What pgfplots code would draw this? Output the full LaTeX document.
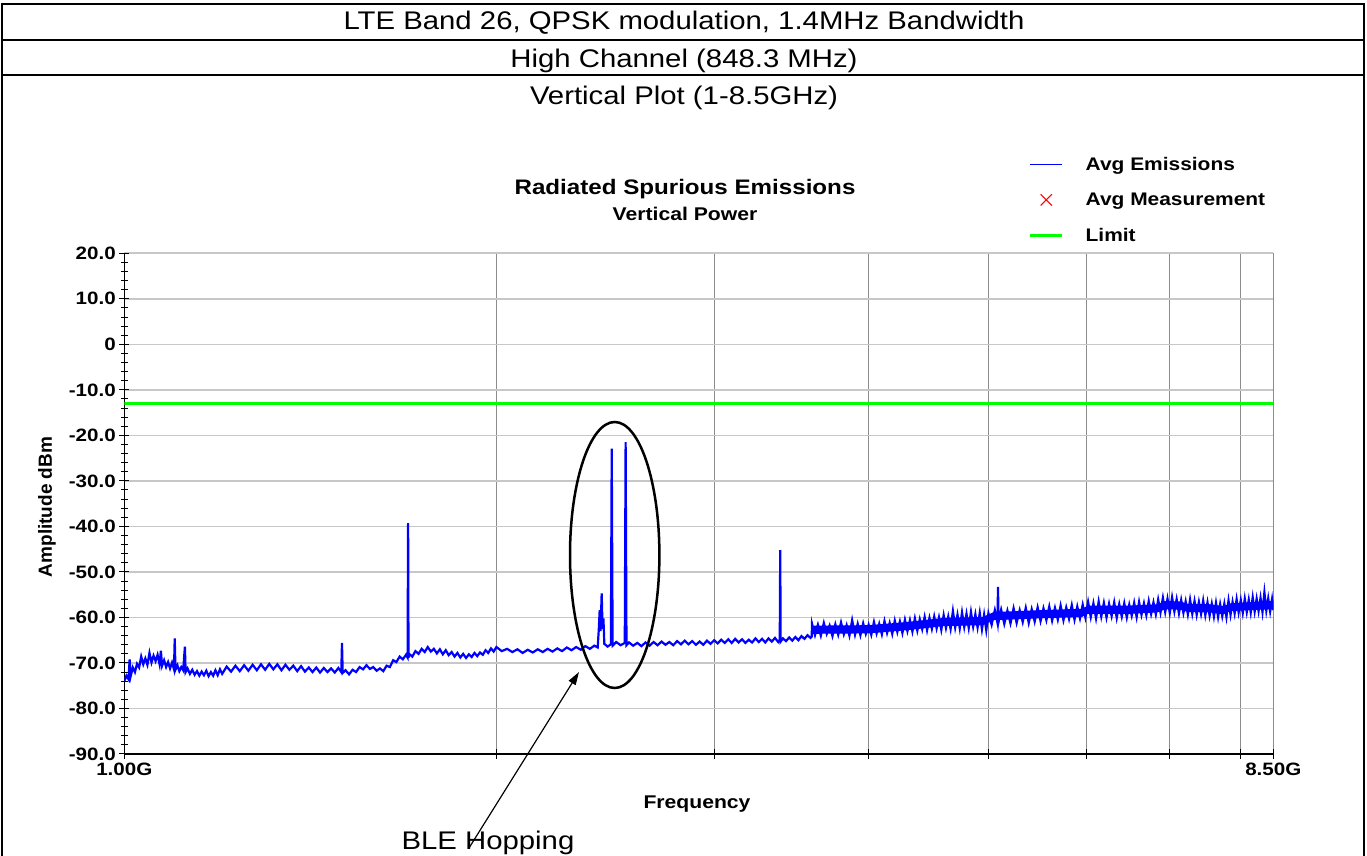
\documentclass[border=0pt]{standalone}
\usepackage{fontspec}
\setmainfont{Liberation Sans}[FakeStretch=1.15]
\newfontfamily\plainsans{Liberation Sans}
\usepackage{pgfplots}
\pgfplotsset{compat=1.18}
\usetikzlibrary{arrows.meta}
\begin{document}
\begin{tikzpicture}[x=1pt,y=1pt]
\useasboundingbox (0,0) rectangle (1367,856);
% header table
\draw[line width=2pt] (2,-5) -- (2,852) -- (1364,852) -- (1364,-5);
\draw[line width=2pt] (2,816) -- (1364,816);
\draw[line width=2pt] (2,781) -- (1364,781);
\node[anchor=base, inner sep=0pt, font=\fontsize{25.5}{30}\selectfont] at (684,826) {LTE Band 26, QPSK modulation, 1.4MHz Bandwidth};
\node[anchor=base, inner sep=0pt, font=\fontsize{25.5}{30}\selectfont] at (684,788) {High Channel (848.3 MHz)};
\node[anchor=base, inner sep=0pt, font=\fontsize{25.5}{30}\selectfont] at (684,751) {Vertical Plot (1-8.5GHz)};
\node[anchor=base, inner sep=0pt, font=\bfseries\fontsize{21}{25}\selectfont] at (685,661.5) {Radiated Spurious Emissions};
\node[anchor=base, inner sep=0pt, font=\bfseries\fontsize{18.4}{22}\selectfont] at (685,635.5) {Vertical Power};
\node[rotate=90, anchor=center, inner sep=0pt, font=\plainsans\bfseries\fontsize{19}{22}\selectfont] at (47,349) {Amplitude dBm};
\node[anchor=base, inner sep=0pt, font=\bfseries\fontsize{18.4}{22}\selectfont] at (697,47.5) {Frequency};

\begin{axis}[
  at={(124.3pt,102pt)}, anchor=south west, scale only axis,
  width=1149pt, height=500.7pt,
  xmode=log, xmin=1, xmax=8.5, ymin=-90, ymax=20,
  axis x line*=bottom, axis y line*=left,
  axis line style={black, line width=1.2pt},
  xtick={1,2,3,4,5,6,7,8,8.5},
  xticklabels={1.00G,{},{},{},{},{},{},{},8.50G},
  minor xtick={},
  ytick={-90,-80,...,20},
  yticklabels={-90.0,-80.0,-70.0,-60.0,-50.0,-40.0,-30.0,-20.0,-10.0,0,10.0,20.0},
  minor y tick num=4,
  xmajorgrids, ymajorgrids,
  x grid style={black!45, line width=1pt},
  y grid style={black!22, line width=1.6pt},
  tick align=center, major tick length=10pt, minor tick length=7pt,
  tick style={black, line width=1pt},
  ticklabel style={font=\bfseries\fontsize{17.9}{20}\selectfont},
  legend style={at={(axis description cs:0.7845,1.2003)}, anchor=north west,
    draw=none, fill=none, font=\bfseries\fontsize{18.2}{20}\selectfont,
    row sep=17pt, /tikz/every odd column/.append style={column sep=20pt}},
  legend cell align=left,
  legend image code/.code={\draw[mark repeat=2,mark phase=2,#1] plot coordinates {(0pt,0pt) (16pt,0pt) (32pt,0pt)};},
]
\addlegendimage{blue, line width=0.9pt}
\addlegendentry{Avg Emissions}
\addlegendimage{only marks, mark=x, red, mark size=8pt, line width=1pt}
\addlegendentry{Avg Measurement}
\addlegendimage{green, line width=2.8pt}
\addlegendentry{Limit}
% dense core of the noise band above 3.6 GHz
\addplot[fill=blue, draw=none, forget plot] coordinates {
(3.6,-61.8) (4.0,-61.7) (4.3,-61.0) (4.6,-60.1) (4.95,-59.9) (5.05,-58.8) (5.5,-58.4) (5.95,-58.1)
(6.02,-57.4) (6.5,-57.4) (6.85,-57.1) (6.95,-56.4) (7.15,-56.5) (7.25,-57.0) (7.55,-57.1) (7.75,-57.5)
(7.85,-56.9) (8.3,-56.5) (8.5,-56.4)
(8.5,-58.2) (8.3,-58.3) (7.85,-58.6) (7.75,-59.3) (7.55,-58.9) (7.25,-58.8) (7.15,-58.3) (6.95,-58.2)
(6.85,-58.9) (6.5,-59.2) (6.02,-59.2) (5.95,-59.9) (5.5,-60.2) (5.05,-60.6) (4.95,-61.7) (4.6,-61.9)
(4.3,-62.8) (4.0,-63.5) (3.6,-63.6)
} -- cycle;
\addplot[blue, line width=2.2pt, forget plot] coordinates {
(1.000,-74.0) (1.004,-72.8) (1.008,-73.6) (1.010,-69.2) (1.012,-72.9) (1.016,-71.0) (1.020,-72.0) (1.024,-70.2)
(1.028,-71.0) (1.032,-68.6) (1.036,-70.3) (1.040,-69.0) (1.044,-70.4) (1.048,-67.8) (1.052,-69.9) (1.056,-68.4)
(1.060,-69.6) (1.064,-68.2) (1.068,-70.3) (1.0705,-67.3) (1.073,-70.6) (1.077,-69.4) (1.081,-70.9) (1.085,-69.8)
(1.089,-71.2) (1.093,-69.9) (1.097,-71.4) (1.0985,-64.6) (1.100,-71.5) (1.104,-70.5) (1.108,-71.8) (1.112,-70.9)
(1.116,-71.6) (1.1195,-66.4) (1.121,-72.0) (1.125,-71.2) (1.130,-72.4) (1.135,-71.5) (1.140,-72.6) (1.145,-71.8)
(1.150,-72.8) (1.155,-71.9) (1.160,-72.7) (1.165,-71.7) (1.170,-72.9) (1.175,-72.0) (1.180,-72.8) (1.185,-71.6)
(1.190,-72.7) (1.195,-71.4) (1.200,-72.4)
(1.21,-70.8) (1.22,-71.9) (1.23,-70.6) (1.24,-71.8) (1.25,-70.5) (1.26,-71.7) (1.27,-70.4) (1.28,-71.6)
(1.29,-70.3) (1.30,-71.5) (1.31,-70.2) (1.32,-71.4) (1.33,-70.3) (1.34,-71.6) (1.35,-70.4) (1.36,-71.5)
(1.37,-70.6) (1.38,-71.8) (1.39,-70.7) (1.40,-71.9) (1.41,-71.0) (1.42,-72.0) (1.43,-71.0) (1.44,-72.1)
(1.45,-71.1) (1.46,-72.0) (1.47,-71.2) (1.48,-72.1) (1.49,-71.1) (1.498,-72.0) (1.500,-65.6) (1.502,-72.2)
(1.51,-71.6) (1.52,-72.5) (1.53,-71.5) (1.54,-72.0) (1.55,-70.9) (1.56,-71.4) (1.57,-70.5) (1.58,-71.3)
(1.59,-70.9) (1.60,-71.7) (1.61,-71.2) (1.62,-71.8) (1.63,-70.6) (1.64,-70.9) (1.65,-69.4) (1.66,-69.8)
(1.67,-68.6) (1.68,-69.2) (1.69,-68.2) (1.695,-68.8) (1.6966,-39.3) (1.698,-68.9) (1.70,-68.0) (1.71,-68.6)
(1.72,-67.4) (1.73,-68.0) (1.74,-66.9) (1.75,-67.6) (1.76,-66.5) (1.77,-67.5) (1.78,-66.9) (1.79,-67.9)
(1.80,-67.0) (1.81,-68.1) (1.82,-67.2) (1.83,-68.3) (1.84,-67.6) (1.85,-68.6) (1.86,-67.8) (1.87,-68.8)
(1.88,-68.0) (1.89,-68.9) (1.90,-68.1) (1.91,-68.7) (1.92,-67.8) (1.93,-68.5) (1.94,-67.7) (1.95,-68.2)
(1.96,-67.2) (1.97,-67.8) (1.98,-66.8) (1.99,-67.5) (2.00,-66.5)
(2.02,-67.4) (2.04,-66.9) (2.06,-67.6) (2.08,-67.0) (2.10,-67.8) (2.12,-67.1) (2.14,-67.7) (2.16,-67.0)
(2.18,-67.6) (2.20,-66.9) (2.22,-67.5) (2.24,-66.8) (2.26,-67.4) (2.28,-66.6) (2.30,-67.2) (2.32,-66.5)
(2.34,-67.1) (2.36,-66.3) (2.38,-66.9) (2.40,-66.2) (2.415,-66.6) (2.420,-62.6) (2.424,-58.4) (2.428,-63.0)
(2.433,-54.7) (2.437,-62.5) (2.441,-60.2) (2.445,-65.8) (2.46,-66.4) (2.475,-65.9) (2.479,-22.9) (2.483,-66.2)
(2.50,-65.4) (2.52,-66.1) (2.54,-65.6) (2.544,-21.5) (2.548,-66.1) (2.56,-65.5) (2.58,-66.2) (2.60,-65.6)
(2.62,-66.3) (2.64,-65.5) (2.66,-66.2) (2.68,-65.4) (2.70,-66.1) (2.72,-65.3) (2.74,-66.0) (2.76,-65.4)
(2.78,-66.1) (2.80,-65.2) (2.82,-65.9) (2.84,-65.1) (2.86,-65.9) (2.88,-65.2) (2.90,-66.0) (2.92,-65.3)
(2.94,-66.0) (2.96,-65.1) (2.98,-65.8) (3.00,-65.0) (3.02,-65.7) (3.04,-64.9) (3.06,-65.6) (3.08,-64.8)
(3.10,-65.6) (3.12,-64.7) (3.14,-65.5) (3.16,-64.8) (3.18,-65.6) (3.20,-64.9) (3.22,-65.5) (3.24,-64.6)
(3.26,-65.4) (3.28,-64.7) (3.30,-65.5) (3.32,-64.6) (3.34,-65.3) (3.36,-64.5) (3.38,-65.4) (3.390,-64.9)
(3.393,-45.2) (3.396,-65.3) (3.41,-64.6) (3.43,-65.2) (3.45,-64.4) (3.47,-65.1) (3.49,-64.3) (3.51,-65.0)
(3.53,-64.1) (3.55,-64.7) (3.57,-63.9) (3.59,-64.5) (3.598,-64.2)
(3.60,-61.4) (3.62,-63.9) (3.64,-61.6) (3.66,-64.0) (3.68,-61.2) (3.70,-63.6) (3.72,-61.8) (3.74,-64.1)
(3.76,-61.5) (3.78,-63.8) (3.80,-61.1) (3.82,-63.7) (3.84,-61.7) (3.86,-64.0) (3.88,-60.6) (3.90,-63.8)
(3.92,-61.4) (3.94,-63.9) (3.96,-61.3) (3.98,-63.6) (4.00,-61.6) (4.02,-63.8) (4.04,-61.0) (4.06,-63.5)
(4.08,-61.4) (4.10,-63.7) (4.12,-60.8) (4.14,-63.4) (4.16,-61.2) (4.18,-63.6) (4.20,-60.7) (4.22,-63.2)
(4.24,-60.9) (4.26,-63.4) (4.28,-60.5) (4.30,-63.0) (4.32,-60.6) (4.34,-63.1) (4.36,-60.2) (4.38,-62.9)
(4.40,-60.4) (4.42,-62.6) (4.44,-59.9) (4.46,-62.8) (4.48,-60.1) (4.50,-62.5) (4.52,-59.8) (4.54,-62.4)
(4.56,-60.0) (4.58,-62.7) (4.60,-59.5) (4.62,-62.3) (4.64,-59.8) (4.66,-62.5) (4.68,-58.6) (4.70,-62.2)
(4.72,-59.4) (4.74,-62.4) (4.76,-58.9) (4.78,-62.1) (4.80,-59.2) (4.82,-62.3) (4.84,-58.8) (4.86,-62.0)
(4.88,-59.3) (4.90,-62.2) (4.92,-59.0) (4.94,-62.6) (4.96,-59.4) (4.98,-62.8) (5.00,-59.1)
(5.03,-61.6) (5.06,-58.4) (5.085,-61.2) (5.090,-53.3) (5.095,-61.0) (5.12,-58.3) (5.15,-61.4) (5.18,-58.5)
(5.21,-61.3) (5.24,-58.0) (5.27,-61.2) (5.30,-58.4) (5.33,-61.0) (5.36,-57.9) (5.39,-61.2) (5.42,-58.2)
(5.45,-60.9) (5.48,-57.8) (5.51,-60.8) (5.54,-58.0) (5.57,-60.6) (5.60,-57.6) (5.63,-60.7) (5.66,-57.9)
(5.69,-60.5) (5.72,-57.4) (5.75,-60.6) (5.78,-57.8) (5.81,-60.3) (5.84,-57.3) (5.87,-60.5) (5.90,-57.6)
(5.93,-60.2) (5.96,-57.2) (5.99,-60.0) (6.02,-56.6) (6.05,-59.9) (6.08,-56.9) (6.11,-60.2) (6.14,-56.5)
(6.17,-59.8) (6.20,-56.8) (6.23,-60.0) (6.26,-57.0) (6.29,-59.7) (6.32,-56.7) (6.35,-60.1) (6.38,-57.1)
(6.41,-59.8) (6.44,-56.9) (6.47,-60.0) (6.50,-57.2) (6.53,-59.6) (6.56,-56.8) (6.59,-59.9) (6.62,-56.6)
(6.65,-59.4) (6.68,-56.9) (6.71,-59.5) (6.74,-56.4) (6.77,-59.2) (6.80,-56.7) (6.83,-59.3) (6.86,-56.1)
(6.89,-58.9) (6.92,-55.7) (6.95,-58.8) (6.98,-55.9) (7.01,-59.0) (7.04,-55.6) (7.07,-58.7) (7.10,-56.0)
(7.13,-59.1) (7.16,-56.2) (7.19,-59.0) (7.22,-56.5) (7.25,-59.3) (7.28,-56.1) (7.31,-59.2) (7.34,-56.4)
(7.37,-59.4) (7.40,-56.6) (7.43,-59.2) (7.46,-56.3) (7.49,-59.5) (7.52,-56.7) (7.55,-59.6) (7.58,-57.0)
(7.61,-59.8) (7.64,-56.8) (7.67,-59.9) (7.70,-57.1) (7.73,-59.7) (7.76,-57.0) (7.79,-59.9) (7.82,-56.3)
(7.85,-59.4) (7.88,-56.6) (7.91,-59.1) (7.94,-56.0) (7.97,-58.9) (8.00,-56.2) (8.03,-59.0) (8.06,-55.9)
(8.09,-58.8) (8.12,-56.1) (8.15,-58.9) (8.18,-55.6) (8.21,-58.7) (8.24,-55.9) (8.27,-58.6) (8.30,-55.7)
(8.33,-58.8) (8.36,-54.5) (8.39,-58.5) (8.42,-55.8) (8.45,-58.7) (8.48,-56.0) (8.50,-58.4)
};
\addplot[green, line width=2.8pt, forget plot] coordinates {(1,-13) (8.5,-13)};
\end{axis}

\draw[line width=2.5pt] (614.7,301) ellipse [x radius=44.7, y radius=133];
\draw[line width=1.2pt, -{Triangle[length=13pt,width=8pt]}] (469,8) -- (579,184);
\node[anchor=base, inner sep=0pt, font=\fontsize{25.5}{30}\selectfont] at (488,6) {BLE Hopping};
\end{tikzpicture}
\end{document}
